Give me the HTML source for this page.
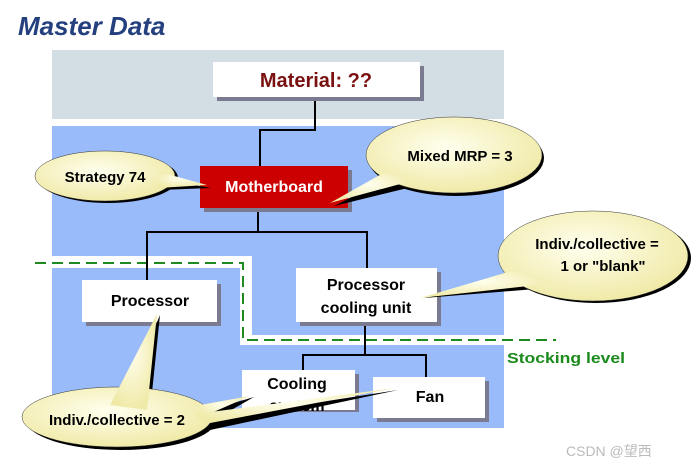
<!DOCTYPE html>
<html><head><style>
html,body{margin:0;padding:0;background:#fff;}
svg{display:block;font-family:"Liberation Sans",Arial,sans-serif;font-weight:bold;}
</style></head><body>
<svg width="692" height="467" viewBox="0 0 692 467" xmlns="http://www.w3.org/2000/svg">
<defs>
<radialGradient id="cg" cx="0.45" cy="0.4" r="0.6">
<stop offset="0" stop-color="#ffffee"/><stop offset="1" stop-color="#f0eaa8"/>
</radialGradient>
</defs>
<rect x="0" y="0" width="692" height="467" fill="#fff"/>
<text x="18" y="35" font-size="26" font-style="italic" fill="#24407e">Master Data</text>
<rect x="52" y="50" width="452" height="69" fill="#d3dde4"/>
<rect x="52" y="126" width="452" height="130" fill="#99bbfa"/>
<rect x="252" y="256" width="252" height="79" fill="#99bbfa"/>
<rect x="52" y="268" width="188" height="77" fill="#99bbfa"/>
<rect x="52" y="345" width="452" height="83" fill="#99bbfa"/>
<polyline points="35,263 243,263 243,340 556,340" fill="none" stroke="#1f8a1f" stroke-width="2" stroke-dasharray="11,6"/>
<text x="507" y="363" font-size="15" fill="#1a8a1a" textLength="118" lengthAdjust="spacingAndGlyphs">Stocking level</text>
<g stroke="#000" stroke-width="2" fill="none">
<polyline points="315,97 315,130 260,130 260,166"/>
<polyline points="258,208 258,232"/>
<polyline points="147,280 147,232 367,232 367,268"/>
<polyline points="365,322 365,355"/>
<polyline points="303,372 303,355 426,355 426,377"/>
</g>
<g fill="#7a7a90">
<rect x="217" y="66" width="207" height="35"/>
<rect x="204" y="170" width="148" height="42"/>
<rect x="86" y="284" width="135" height="42"/>
<rect x="300" y="272" width="141" height="54"/>
<rect x="246" y="374" width="113" height="40"/>
<rect x="377" y="381" width="112" height="41"/>
</g>
<rect x="213" y="62" width="207" height="35" fill="#fff"/>
<text x="316" y="87" font-size="20" fill="#7a1010" text-anchor="middle">Material: ??</text>
<rect x="200" y="166" width="148" height="42" fill="#cc0000"/>
<text x="274" y="192" font-size="16" fill="#fff" text-anchor="middle">Motherboard</text>
<rect x="82" y="280" width="135" height="42" fill="#fff"/>
<text x="150" y="306" font-size="16" fill="#000" text-anchor="middle">Processor</text>
<rect x="296" y="268" width="141" height="54" fill="#fff"/>
<text x="366" y="290" font-size="16" fill="#000" text-anchor="middle">Processor</text>
<text x="366" y="313" font-size="16" fill="#000" text-anchor="middle">cooling unit</text>
<rect x="242" y="370" width="113" height="40" fill="#fff"/>
<text x="297" y="389" font-size="16" fill="#000" text-anchor="middle">Cooling</text>
<text x="297" y="411" font-size="16" fill="#000" text-anchor="middle">system</text>
<rect x="242" y="412" width="117" height="6" fill="#99bbfa"/>
<rect x="373" y="377" width="112" height="41" fill="#fff"/>
<text x="430" y="402" font-size="16" fill="#000" text-anchor="middle">Fan</text>
<g fill="#000">
<path d="M38,178 a70,25 0 1,0 140,0 a70,25 0 1,0 -140,0 Z"/>
<path d="M368,158 a88,38 0 1,0 176,0 a88,38 0 1,0 -176,0 Z"/>
<path d="M501,258 a95,45 0 1,0 190,0 a95,45 0 1,0 -190,0 Z"/>
<path d="M26,420 a95,30 0 1,0 190,0 a95,30 0 1,0 -190,0 Z"/>
<polygon points="165,180 211,188 160,190"/>
<polygon points="390,178 334,206 420,185"/>
<polygon points="560,287 424,298 520,280"/>
<polygon points="160,315 150,412 120,410"/>
<polygon points="210,410 254,397 205,425"/>
<polygon points="205,420 398,390 210,430"/>
</g>
<g fill="url(#cg)" stroke="#333" stroke-width="0.5">
<path d="M35,176 a70,25 0 1,0 140,0 a70,25 0 1,0 -140,0 Z"/>
<path d="M366,155 a88,38 0 1,0 176,0 a88,38 0 1,0 -176,0 Z"/>
<path d="M498,256 a95,45 0 1,0 190,0 a95,45 0 1,0 -190,0 Z"/>
<path d="M22,417 a95,30 0 1,0 190,0 a95,30 0 1,0 -190,0 Z"/>
</g>
<g fill="url(#cg)">
<polygon points="160,172 207,185 158,188"/>
<polygon points="385,172 330,203 415,180"/>
<polygon points="555,283 420,298 515,270"/>
<polygon points="157,314 147,410 110,405"/>
<polygon points="200,405 250,396 200,418"/>
<polygon points="195,414 395,388 205,424"/>
</g>
<g font-size="15" fill="#000" text-anchor="middle">
<text x="105" y="182">Strategy 74</text>
<text x="460" y="161">Mixed MRP = 3</text>
<text x="597" y="249">Indiv./collective =</text>
<text x="603" y="271">1 or "blank"</text>
<text x="117" y="425">Indiv./collective = 2</text>
</g>
<text x="566" y="456" font-size="14" fill="#bbb" style="font-weight:normal;font-family:'Liberation Sans','Noto Sans CJK SC',sans-serif">CSDN @望西</text>
</svg>
</body></html>
